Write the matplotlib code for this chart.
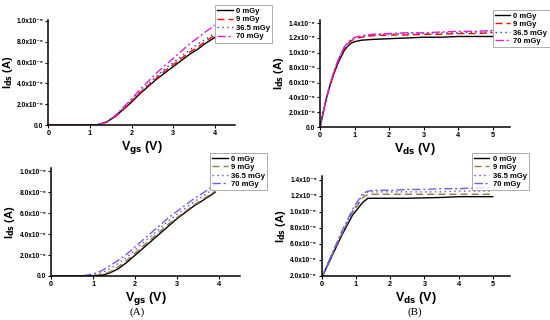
import numpy as np
import matplotlib
matplotlib.use("Agg")
import matplotlib.pyplot as plt
from matplotlib.ticker import FixedLocator, FixedFormatter

plt.rcParams['font.family'] = ['Liberation Sans', 'DejaVu Sans']
plt.rcParams['font.weight'] = 'bold'
plt.rcParams['mathtext.default'] = 'bf'

doses = ["0 mGy", "9 mGy", "36.5 mGy", "70 mGy"]

# transfer curve (top left), Ids in units of 1e-5 A
vgs_a = [0, 0.5, 1.0, 1.2, 1.4, 1.6, 1.8, 2.0, 2.2, 2.4, 2.6, 2.8, 3.0, 3.2, 3.4, 3.6, 3.8, 4.0]
ids_a = [
    [0, 0, 0, 0.005, 0.03, 0.08, 0.15, 0.22, 0.30, 0.37, 0.44, 0.50, 0.56, 0.62, 0.68, 0.73, 0.79, 0.84],
    [0, 0, 0, 0.005, 0.03, 0.08, 0.15, 0.23, 0.31, 0.38, 0.45, 0.52, 0.58, 0.64, 0.70, 0.75, 0.81, 0.86],
    [0, 0, 0, 0.005, 0.03, 0.09, 0.16, 0.24, 0.32, 0.39, 0.47, 0.54, 0.60, 0.66, 0.72, 0.78, 0.83, 0.88],
    [0, 0, 0, 0.005, 0.03, 0.09, 0.17, 0.25, 0.34, 0.42, 0.50, 0.57, 0.64, 0.71, 0.78, 0.84, 0.90, 0.96],
]

# output curve (top right)
vds_b = [0, 0.1, 0.2, 0.3, 0.4, 0.5, 0.6, 0.7, 0.8, 0.9, 1.0, 1.2, 1.5, 2.0, 2.5, 3.0, 3.5, 4.0, 4.5, 5.0]
ids_b = [
    [0, 0.22, 0.42, 0.58, 0.72, 0.84, 0.94, 1.03, 1.09, 1.13, 1.15, 1.17, 1.18, 1.19, 1.20, 1.21, 1.21, 1.22, 1.22, 1.22],
    [0, 0.22, 0.42, 0.58, 0.73, 0.86, 0.97, 1.06, 1.12, 1.16, 1.19, 1.21, 1.23, 1.24, 1.24, 1.25, 1.25, 1.26, 1.26, 1.27],
    [0, 0.22, 0.42, 0.59, 0.74, 0.87, 0.98, 1.07, 1.13, 1.17, 1.20, 1.22, 1.24, 1.25, 1.26, 1.26, 1.27, 1.27, 1.28, 1.28],
    [0, 0.22, 0.43, 0.60, 0.75, 0.88, 0.99, 1.08, 1.14, 1.18, 1.21, 1.23, 1.25, 1.26, 1.27, 1.27, 1.28, 1.29, 1.29, 1.30],
]

# transfer curve (bottom left)
vgs_c = [0, 0.5, 0.8, 1.0, 1.2, 1.4, 1.6, 1.8, 2.0, 2.2, 2.4, 2.6, 2.8, 3.0, 3.2, 3.4, 3.6, 3.9]
ids_c = [
    [0, 0, 0, 0, 0.005, 0.03, 0.07, 0.13, 0.20, 0.27, 0.34, 0.41, 0.48, 0.55, 0.61, 0.67, 0.72, 0.80],
    [0, 0, 0, 0.005, 0.015, 0.04, 0.09, 0.15, 0.22, 0.29, 0.36, 0.43, 0.50, 0.56, 0.62, 0.68, 0.73, 0.81],
    [0, 0, 0, 0.01, 0.03, 0.07, 0.12, 0.18, 0.25, 0.32, 0.39, 0.46, 0.53, 0.59, 0.65, 0.71, 0.76, 0.84],
    [0, 0, 0.005, 0.02, 0.05, 0.10, 0.15, 0.21, 0.28, 0.35, 0.42, 0.49, 0.56, 0.62, 0.68, 0.74, 0.79, 0.87],
]

# output curve (bottom right)
vds_d = [0, 0.3, 0.6, 0.9, 1.2, 1.35, 1.6, 2.0, 2.5, 3.0, 3.5, 4.0, 4.5, 5.0]
ids_d = [
    [0.18, 0.45, 0.72, 0.96, 1.12, 1.17, 1.17, 1.17, 1.17, 1.175, 1.18, 1.19, 1.19, 1.19],
    [0.18, 0.46, 0.74, 0.99, 1.18, 1.22, 1.22, 1.22, 1.22, 1.22, 1.22, 1.22, 1.22, 1.22],
    [0.18, 0.47, 0.75, 1.01, 1.21, 1.25, 1.25, 1.25, 1.25, 1.25, 1.25, 1.26, 1.26, 1.26],
    [0.18, 0.48, 0.77, 1.03, 1.23, 1.26, 1.27, 1.27, 1.28, 1.28, 1.29, 1.29, 1.30, 1.30],
]

top_colors = ["black", "red", "#1f3fbf", "#e020e0"]
bot_colors = ["black", "#8c7a3c", "#7a3ce0", "#7060e8"]
styles = ["-", (0, (5, 3)), (0, (1, 2.5)), (0, (6, 2, 1.5, 2))]

lab_a = ["0.0", "2.0x10⁻⁶", "4.0x10⁻⁶", "6.0x10⁻⁶", "8.0x10⁻⁶", "1.0x10⁻⁵"]
lab_b = ["0.0", "2.0x10⁻⁶", "4.0x10⁻⁶", "6.0x10⁻⁶", "8.0x10⁻⁶",
         "1.0x10⁻⁵", "1.2x10⁻⁵", "1.4x10⁻⁵"]
lab_d = lab_b[1:]

fig = plt.figure(figsize=(5.5, 3.2), dpi=100)

def panel(rect, x, ys, colors, xlim, ylim, yticks, ylabels, xlabel, leg_xy, xticks, ylab_x):
    ax = fig.add_axes(rect)
    for y, c, ls, lab in zip(ys, colors, styles, doses):
        ax.plot(x, y, color=c, linestyle=ls, lw=1.0, label=lab)
    ax.set_xlim(*xlim)
    ax.set_ylim(*ylim)
    ax.xaxis.set_major_locator(FixedLocator(xticks))
    ax.yaxis.set_major_locator(FixedLocator(yticks))
    ax.yaxis.set_major_formatter(FixedFormatter(ylabels))
    ax.spines['top'].set_visible(False)
    ax.spines['right'].set_visible(False)
    for s in ['left', 'bottom']:
        ax.spines[s].set_linewidth(1.1)
    ax.tick_params(labelsize=5.2, length=2.5, width=0.8, pad=1.0)
    ax.tick_params(axis='y', labelsize=4.8)
    for t in ax.get_xticklabels() + ax.get_yticklabels():
        t.set_fontweight('bold')
    ax.set_xlabel(xlabel, fontsize=9, fontweight='bold', labelpad=1.5)
    ax.set_ylabel("I$_{ds}$ (A)", fontsize=8, fontweight='bold')
    ax.yaxis.set_label_coords(ylab_x, 0.5)
    leg = ax.legend(loc='upper left', bbox_to_anchor=leg_xy, bbox_transform=fig.transFigure,
                    fontsize=5.5, frameon=True, fancybox=False, borderpad=0.3,
                    handlelength=2.0, handletextpad=0.4, labelspacing=0.15, borderaxespad=0)
    leg.get_frame().set_edgecolor('#888888')
    leg.get_frame().set_linewidth(0.6)
    for t in leg.get_texts():
        t.set_fontweight('bold')
    return ax

panel([0.088, 0.609, 0.34, 0.329], vgs_a, ids_a, top_colors, (0, 4.5), (0, 1.01),
      [0, 0.2, 0.4, 0.6, 0.8, 1.0], lab_a, "V$_{gs}$ (V)", (0.391, 0.984), [0, 1, 2, 3, 4], -0.18)
panel([0.582, 0.603, 0.345, 0.334], vds_b, ids_b, top_colors, (0, 5.5), (0, 1.44),
      [0, 0.2, 0.4, 0.6, 0.8, 1.0, 1.2, 1.4], lab_b, "V$_{ds}$ (V)", (0.896, 0.969), [0, 1, 2, 3, 4, 5], -0.18)
panel([0.093, 0.1375, 0.344, 0.337], vgs_c, ids_c, bot_colors, (0, 4.5), (0, 1.03),
      [0, 0.2, 0.4, 0.6, 0.8, 1.0], lab_a, "V$_{gs}$ (V)", (0.382, 0.522), [0, 1, 2, 3, 4], -0.18)
panel([0.585, 0.1375, 0.342, 0.313], vds_d, ids_d, bot_colors, (0, 5.5), (0.2, 1.45),
      [0.2, 0.4, 0.6, 0.8, 1.0, 1.2, 1.4], lab_d, "V$_{ds}$ (V)", (0.858, 0.522), [0, 1, 2, 3, 4, 5], -0.18)

fig.text(0.249, 0.025, "(A)", ha='center', va='center', fontsize=8, family='Liberation Serif', fontweight='normal')
fig.text(0.755, 0.025, "(B)", ha='center', va='center', fontsize=8, family='Liberation Serif', fontweight='normal')

fig.savefig("out.png", dpi=100)
